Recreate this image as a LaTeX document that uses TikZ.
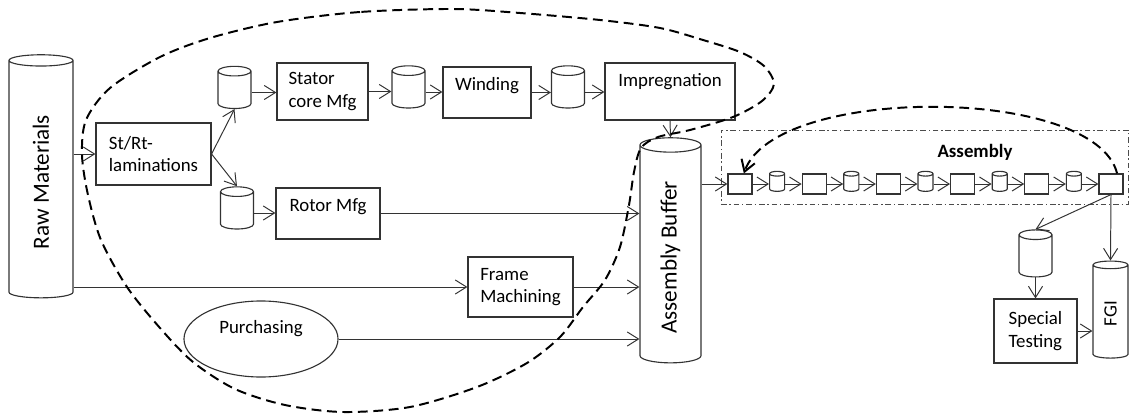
\documentclass[tikz,border=0pt]{standalone}
\usepackage{fontspec}
\setmainfont{Carlito}
\usepackage{graphicx}
\usetikzlibrary{shapes.geometric, arrows.meta, calc}

\tikzstyle{process} = [rectangle, draw=black!80, line width=0.8pt, inner sep=0pt, align=left, font=\fontsize{13.4}{16}\selectfont]
\tikzstyle{tank} = [cylinder, shape border rotate=90, aspect=0.3, draw=black!80, line width=0.8pt, inner sep=0.4cm, minimum width=0.825cm, minimum height=1.025cm, font=\fontsize{13.4}{16}\selectfont]
\tikzstyle{bigtank} = [tank, font=\fontsize{16.5}{19}\selectfont]
\tikzstyle{arrow} = [black!80, line width=0.7pt, -{Straight Barb[length=8pt,width=10pt]}]
\tikzstyle{loopline} = [line width=1.4pt, dash pattern=on 7pt off 4pt]

\begin{document}
\begin{tikzpicture}[x=0.025cm, y=-0.025cm]
			\useasboundingbox (0,0) rectangle (1130,414);

			\node(raw)[bigtank, aspect=0.2, inner sep=0.5cm, minimum width=1.6cm, minimum height=6.075cm] at (41,182) {\rotatebox{90}{Raw Materials}};
			\node(lam)[process, minimum width=2.875cm, minimum height=1.55cm] at (153.5,154) {St/Rt-\\laminations};
			\node(cs1)[tank] at (234.5,92.5) {};
			\node(cr1)[tank] at (237,213) {};
			\node(stator)[process, minimum width=2.275cm, minimum height=1.425cm] at (322.5,91.5) {Stator\\core Mfg};
			\node(cs2)[tank] at (408.5,92) {};
			\node(winding)[process, minimum width=2.2cm, minimum height=1.275cm, text depth=0.45cm] at (487,92.5) {Winding};
			\node(cs3)[tank] at (568,92) {};
			\node(impreg)[process, minimum width=3.25cm, minimum height=1.425cm, text depth=0.58cm] at (670,91.5) {Impregnation};
			\node(rotor)[process, minimum width=2.6cm, minimum height=1.275cm, text depth=0.4cm] at (328,213.5) {Rotor Mfg};
			\node(frame)[process, minimum width=2.625cm, minimum height=1.5cm] at (520.5,287) {Frame\\Machining};
			\node(purch)[ellipse, draw=black!80, line width=0.8pt, inner sep=0pt, minimum width=3.85cm, minimum height=1.9cm, text depth=0.6cm, font=\fontsize{13.4}{16}\selectfont] at (261,339) {Purchasing};
			\node(buffer)[bigtank, aspect=0.25, inner sep=0.47cm, minimum width=1.525cm, minimum height=5.625cm] at (670.5,257.5) {\rotatebox{90}{Assembly Buffer}};

			% assembly line
			\node(asm)[rectangle, draw=black!70, line width=0.6pt, dash pattern=on 4pt off 2pt on 1pt off 2pt, minimum width=10.175cm, minimum height=1.85cm] at (924.5,167) {};
			\node(asmlabel)[font=\fontsize{13.4}{16}\selectfont\bfseries] at (975,152) {Assembly};
			\foreach \k in {0,2,...,10}
				\node(a\k)[process, minimum width=0.6cm, minimum height=0.5cm] at (740+37.1*\k,184) {};
			\foreach \k in {1,3,...,9}
				\node(a\k)[tank, aspect=0.33, inner sep=0.18cm, minimum width=0.375cm, minimum height=0.5cm] at (740+37.1*\k,184) {};

			\node(sc)[tank, minimum height=1.175cm] at (1035.5,258.5) {};
			\node(spec)[process, minimum width=2.075cm, minimum height=1.6cm] at (1035.5,331) {Special\\Testing};
			\node(fgi)[tank, aspect=0.23, inner sep=0.26cm, minimum width=0.875cm, minimum height=2.425cm] at (1110.5,313.5) {\rotatebox{90}{FGI}};

			\draw [arrow] (raw.east |- lam.west) -- (lam.west);
			\draw [arrow] (lam.east) -- (cs1.south);
			\draw [arrow] (lam.east) -- (cr1.north);
			\draw [arrow] (cs1.east) -- (cs1.east -| stator.west);
			\draw [arrow] (stator.east) -- (stator.east -| cs2.west);
			\draw [arrow] (cs2.east) -- (cs2.east -| winding.west);
			\draw [arrow] (winding.east) -- (winding.east -| cs3.west);
			\draw [arrow] (cs3.east) -- (cs3.east -| impreg.west);
			\draw [arrow] (impreg.south) -- (buffer.north);
			\draw [arrow] (cr1.east) -- (cr1.east -| rotor.west);
			\draw [arrow] (rotor.east) -- (rotor.east -| buffer.west);
			\draw [arrow] (raw.east |- frame.west) -- (frame.west);
			\draw [arrow] (frame.east) -- (frame.east -| buffer.west);
			\draw [arrow] (purch.east) -- (purch.east -| buffer.west);
			\draw [arrow] (buffer.east |- a0.west) -- (a0.west);
			\foreach \k [count=\n from 1] in {0,...,9}
				\draw [arrow] (a\k) -- (a\n);
			\draw [arrow] (a10.south) -- (sc.north);
			\draw [arrow] (a10.south) -- (fgi.north);
			\draw [arrow] (sc.south) -- (spec.north);
			\draw [arrow] (spec.east) -- (spec.east -| fgi.west);

			% rework loop and motor loop
			\draw [loopline, -{Straight Barb[length=8pt,width=10pt]}] (a10.60) .. controls (1095,85) and (775,85) .. (a0.70);
			\draw [loopline] plot[smooth cycle] coordinates {(453,9) (360,12) (277,22) (210,38) (160,57) (110,88) (86,120) (82,155) (88,195) (101,240) (127,287) (160,328) (193,362) (235,389) (285,405) (343,412) (410,407) (477,387) (527,363) (560,337) (583,307) (605,280) (620,247) (629,205) (634,172) (641,148) (658,137) (690,130) (733,117) (762,101) (774,84) (764,66) (740,52) (703,40) (660,28) (600,20) (520,13)};
		\end{tikzpicture}
\end{document}
